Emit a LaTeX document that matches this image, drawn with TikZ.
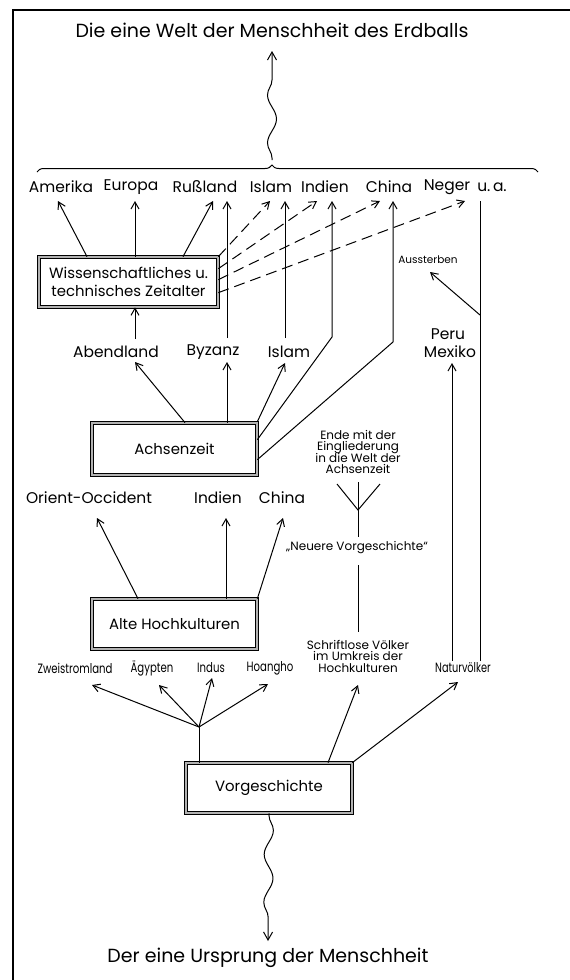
\documentclass[tikz,border=0pt]{standalone}
\usepackage{fontspec}
\setmainfont{Poppins}
\usetikzlibrary{arrows.meta,decorations.pathmorphing,decorations.pathreplacing}
\newcommand\fbig{\fontsize{19}{22}\selectfont}
\newcommand\fmid{\fontsize{15.5}{18}\selectfont}
\newcommand\fboxtext{\fontsize{14.9}{17.5}\selectfont}
\newcommand\fsmall{\fontsize{12}{14}\selectfont}
\newcommand\ftiny{\fontsize{13.5}{15}\selectfont}
\begin{document}
\begin{tikzpicture}[x=1pt,y=-1pt,
  every node/.style={inner sep=0pt},
  lbl/.style={font=\fmid},
  sml/.style={font=\fsmall, align=center},
  cond/.style={font=\ftiny},
  box/.style={draw=black, line width=0.7pt, double=gray!60, double distance=2.2pt, font=\fboxtext, align=center},
  ln/.style={line width=1pt},
  arr/.style={ln,-{Straight Barb[length=7pt,width=8pt]}},
  dsh/.style={arr, dash pattern=on 11pt off 6pt},
  wave/.style={ln, decorate, decoration={snake, amplitude=4.5pt, segment length=48pt, pre length=2pt, post length=9pt}}
]
\useasboundingbox (0,0) rectangle (570,980);
\draw[line width=2pt] (13,980) -- (13,10) -- (570,10);

% top
\node[font=\fbig] (welt) at (272,30) {Die eine Welt der Menschheit des Erdballs};
\coordinate (bracetip) at (272,160);
\coordinate (weltin) at (272,51);
\draw[wave,-{Straight Barb[length=8pt,width=9pt]}] (bracetip) -- (weltin);
\draw[ln, decorate, decoration={brace, amplitude=7pt, aspect=0.469}] (37,172) -- (538,172);

% top row
\node[lbl] (amerika) at (61,187) {Amerika};
\node[lbl] (europa) at (131,187) {Europa};
\node[lbl] (russland) at (205,187) {Rußland};
\node[lbl] (islamT) at (271,187) {Islam};
\node[lbl] (indienT) at (325,187) {Indien};
\node[lbl] (chinaT) at (389,187) {China};
\node[lbl] (neger) at (447,187) {Neger};
\node[lbl] (ua) at (492,187) {u.\,a.};

\coordinate (tAm) at (58,201);
\coordinate (tEu) at (135,201);
\coordinate (tRu) at (213,201);
\coordinate (tRu2) at (227,201);
\coordinate (tIs1) at (270,201);
\coordinate (tIs2) at (285,201);
\coordinate (tIn1) at (317,201);
\coordinate (tIn2) at (332,201);
\coordinate (tCh1) at (380,201);
\coordinate (tCh2) at (393,201);
\coordinate (tNe1) at (465,201);
\coordinate (tNe2) at (480,201);

% Wissenschaftliches box
\node[box, minimum width=179pt, minimum height=50pt] (wiss) at (128.5,282) {Wissenschaftliches u.\\technisches Zeitalter};
\draw[arr] ([xshift=-41.5pt]wiss.north) -- (tAm);
\draw[arr] ([xshift=6.5pt]wiss.north) -- (tEu);
\draw[arr] ([xshift=54.5pt]wiss.north) -- (tRu);
\draw[dsh] (wiss.north east) -- (tIs1);
\draw[dsh] ([yshift=-12pt]wiss.north east) -- (tIn1);
\draw[dsh] ([yshift=-23pt]wiss.north east) -- (tCh1);
\draw[dsh] ([yshift=-36pt]wiss.north east) -- (tNe1);

% middle row
\node[lbl] (abend) at (116,352) {Abendland};
\node[lbl] (byzanz) at (213,352) {Byzanz};
\node[lbl] (islamM) at (289,352) {Islam};
\node[lbl] (peru) at (448,334) {Peru};
\node[lbl] (mexiko) at (450,352) {Mexiko};
\node[font=\fontsize{10.5}{12}\selectfont] (aussterben) at (428,260) {Aussterben};

\draw[arr] (135,339) -- ([xshift=6.5pt]wiss.south);
\draw[arr] (227,338) -- (tRu2);
\draw[arr] (285,338) -- (tIs2);

% Achsenzeit
\node[box, minimum width=165pt, minimum height=52pt] (achsen) at (174.5,449) {Achsenzeit};
\draw[arr] ([xshift=10.5pt]achsen.north) -- (135,362);
\draw[arr] ([xshift=52.5pt]achsen.north) -- (227,362);
\draw[arr] ([yshift=1pt]achsen.north east) -- (285,363);
\draw[arr] ([yshift=-17pt]achsen.north east) -- (332,337) -- (tIn2);
\draw[arr] ([yshift=-37pt]achsen.north east) -- (393,342) -- (tCh2);

% Ende text
\node[sml] (ende) at (358,452) {Ende mit der\\[-2.5pt]Eingliederung\\[-2.5pt]in die Welt der\\[-2.5pt]Achsenzeit};
\coordinate (fork) at (358,510);
\draw[ln] (337,484) -- (fork) -- (380,484);
\draw[ln] (358,482) -- (358,537);
\node[font=\fsmall] (neuere) at (357,548) {„Neuere Vorgeschichte“};

% second row
\node[lbl] (orient) at (89,498) {Orient-Occident};
\node[lbl] (indienM) at (218,498) {Indien};
\node[lbl] (chinaM) at (282,498) {China};

% Alte Hochkulturen
\node[box, minimum width=165pt, minimum height=50pt] (alte) at (174.5,624) {Alte Hochkulturen};
\draw[arr] ([xshift=-36.5pt]alte.north) -- (97,518);
\draw[arr] ([xshift=51.5pt]alte.north) -- (226,518);
\draw[arr] (alte.north east) -- (283,518);

% Schriftlose
\node[sml] (schrift) at (358,656) {Schriftlose Völker\\[-2.5pt]im Umkreis der\\[-2.5pt]Hochkulturen};
\draw[ln] (358,565) -- (358,632);

% bottom row
\node[cond] (zwei) at (75,668) {\scalebox{0.75}[1]{Zweistromland}};
\node[cond] (aeg) at (152,668) {\scalebox{0.75}[1]{Ägypten}};
\node[cond] (indus) at (211,668) {\scalebox{0.75}[1]{Indus}};
\node[cond] (hoang) at (270,668) {\scalebox{0.75}[1]{Hoangho}};
\node[cond] (natur) at (463,668) {\scalebox{0.72}[1]{Naturvölker}};

\draw[arr] (452,661) -- (452,363);
\draw[ln] (480,661) -- (tNe2);
\draw[arr] (480,315) -- (430,272);

% Vorgeschichte
\node[box, minimum width=166pt, minimum height=50pt] (vor) at (269,788) {Vorgeschichte};
\coordinate (junc) at (199,727);
\draw[ln] ([xshift=-70pt]vor.north) -- (junc);
\draw[arr] (junc) -- (92,685);
\draw[arr] (junc) -- (159,685);
\draw[arr] (junc) -- (212,678);
\draw[arr] (junc) -- (268,684);
\draw[arr] ([xshift=59pt]vor.north) -- (358,685);
\draw[arr] (vor.north east) -- (458,682);

% bottom
\node[font=\fbig] (ursprung) at (268,958) {Der eine Ursprung der Menschheit};
\coordinate (urin) at (268,941);
\draw[wave,-{Straight Barb[length=8pt,width=9pt]}] (vor.south) -- (urin);
\end{tikzpicture}
\end{document}
